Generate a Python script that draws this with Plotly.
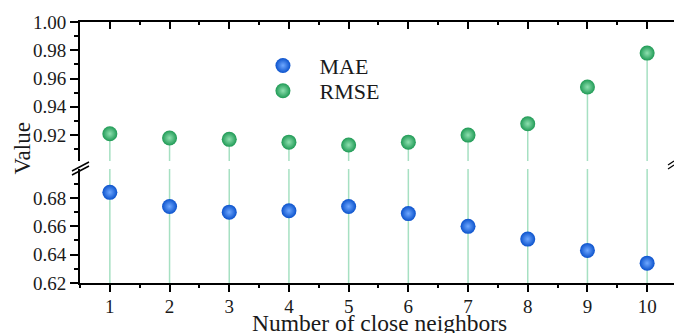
import plotly.graph_objects as go

# ---------------- data ----------------
neighbors = [1, 2, 3, 4, 5, 6, 7, 8, 9, 10]
mae = [0.684, 0.674, 0.670, 0.671, 0.674, 0.669, 0.660, 0.651, 0.643, 0.634]
rmse = [0.921, 0.918, 0.917, 0.915, 0.913, 0.915, 0.920, 0.928, 0.954, 0.978]
x_ticks = [1, 2, 3, 4, 5, 6, 7, 8, 9, 10]
low_ticks = [0.62, 0.64, 0.66, 0.68]
low_minor = [0.63, 0.65, 0.67, 0.69]
high_ticks = [0.92, 0.94, 0.96, 0.98, 1.00]
high_minor = [0.91, 0.93, 0.95, 0.97, 0.99]

# ---------------- layout constants ----------------
LOW_DOM = [0.0, 0.437]
HIGH_DOM = [0.467, 1.0]
LOW_RANGE = [0.62, 0.7005]
HIGH_RANGE = [0.9016, 1.0]
X_RANGE = [0.5, 10.45]

FONT = "Liberation Serif, Times New Roman, serif"
STEM = "#a6e0c2"
BLUE, BLUE_HI = "#0b52cc", "#6fa8ff"
GREEN, GREEN_HI = "#1f9a55", "#8fe0b0"

fig = go.Figure()

# stems in the lower panel (full height, pass through toward the RMSE points)
sx, sy = [], []
for k in neighbors:
    sx += [k, k, None]
    sy += [LOW_RANGE[0], LOW_RANGE[1], None]
fig.add_trace(go.Scatter(x=sx, y=sy, mode="lines", line=dict(color=STEM, width=1.5),
                         showlegend=False, hoverinfo="skip", xaxis="x", yaxis="y"))
# stems in the upper panel (from bottom to the RMSE point)
ux, uy = [], []
for k, v in zip(neighbors, rmse):
    ux += [k, k, None]
    uy += [HIGH_RANGE[0], v, None]
fig.add_trace(go.Scatter(x=ux, y=uy, mode="lines", line=dict(color=STEM, width=1.5),
                         showlegend=False, hoverinfo="skip", xaxis="x2", yaxis="y2"))

nb = "\u00a0\u00a0\u00a0"
fig.add_trace(go.Scatter(
    x=neighbors, y=mae, mode="markers", name=nb + "MAE", xaxis="x", yaxis="y",
    legend="legend",
    marker=dict(size=15, color=BLUE, line=dict(width=0),
                gradient=dict(type="radial", color=BLUE_HI))))
fig.add_trace(go.Scatter(
    x=neighbors, y=rmse, mode="markers", name=nb + "RMSE", xaxis="x2", yaxis="y2",
    legend="legend2",
    marker=dict(size=15, color=GREEN, line=dict(width=0),
                gradient=dict(type="radial", color=GREEN_HI))))

tickfont = dict(family=FONT, size=19, color="#1a1a1a")
common_y = dict(showgrid=False, zeroline=False, showline=True, linecolor="black", linewidth=2,
                ticks="outside", ticklen=8, tickwidth=2, tickcolor="black", tickfont=tickfont)
legend_common = dict(xanchor="left", yanchor="top", bgcolor="rgba(0,0,0,0)",
                     font=dict(family=FONT, size=22, color="#1a1a1a"), itemsizing="trace")

fig.update_layout(
    width=674, height=333,
    margin=dict(l=80, r=0, t=22, b=50),
    paper_bgcolor="white", plot_bgcolor="white",
    font=dict(family=FONT, color="#1a1a1a"),
    xaxis=dict(domain=[0, 1], range=X_RANGE, anchor="y", tickmode="array", tickvals=x_ticks,
               showgrid=False, zeroline=False, showline=True, linecolor="black", linewidth=2,
               ticks="outside", ticklen=7, tickwidth=2, tickcolor="black", tickfont=tickfont,
               ticklabelstandoff=-2,
               minor=dict(tickmode="linear", tick0=0.5, dtick=1, ticks="outside", ticklen=3,
                          tickwidth=1.5, tickcolor="black")),
    xaxis2=dict(domain=[0, 1], range=X_RANGE, anchor="y2", matches="x", side="top",
                showticklabels=False, tickmode="array", tickvals=x_ticks,
                showgrid=False, zeroline=False, showline=True, linecolor="black", linewidth=2,
                ticks="inside", ticklen=7, tickwidth=2, tickcolor="black",
                minor=dict(tickmode="linear", tick0=0.5, dtick=1, ticks="inside", ticklen=3,
                           tickwidth=1.5, tickcolor="black")),
    yaxis=dict(domain=LOW_DOM, range=LOW_RANGE, anchor="x", tickmode="array",
               tickvals=low_ticks, ticktext=[f"{v:.2f}" for v in low_ticks],
               minor=dict(tickmode="array", tickvals=low_minor, ticks="outside", ticklen=4,
                          tickwidth=1.5, tickcolor="black"),
               **common_y),
    yaxis2=dict(domain=HIGH_DOM, range=HIGH_RANGE, anchor="x2", tickmode="array",
                tickvals=high_ticks, ticktext=[f"{v:.2f}" for v in high_ticks],
                minor=dict(tickmode="array", tickvals=high_minor, ticks="outside", ticklen=4,
                           tickwidth=1.5, tickcolor="black"),
                **common_y),
    yaxis3=dict(overlaying="y", side="right", anchor="x", range=LOW_RANGE, showline=False,
                showgrid=False, zeroline=False, showticklabels=False, tickmode="array",
                tickvals=low_ticks, ticks="inside", ticklen=7, tickwidth=2, tickcolor="black",
                minor=dict(tickmode="array", tickvals=low_minor, ticks="inside", ticklen=3,
                           tickwidth=1.5, tickcolor="#333")),
    yaxis4=dict(overlaying="y2", side="right", anchor="x2", range=HIGH_RANGE, showline=False,
                showgrid=False, zeroline=False, showticklabels=False, tickmode="array",
                tickvals=high_ticks, ticks="inside", ticklen=7, tickwidth=2, tickcolor="black",
                minor=dict(tickmode="array", tickvals=high_minor, ticks="inside", ticklen=3,
                           tickwidth=1.5, tickcolor="#333")),
    legend=dict(x=0.308, y=0.913, **legend_common),
    legend2=dict(x=0.308, y=0.8165, **legend_common),
    showlegend=True,
)

# axis titles
fig.add_annotation(text="Number of close neighbors", xref="paper", yref="paper",
                   x=0.505, y=-0.152, xanchor="center", yanchor="middle", showarrow=False,
                   font=dict(family=FONT, size=23.5, color="#1a1a1a"))
fig.add_annotation(text="Value", xref="paper", yref="paper", x=-0.097, y=0.517,
                   xanchor="center", yanchor="middle", textangle=-90, showarrow=False,
                   font=dict(family=FONT, size=23, color="#1a1a1a"))


# break marks (pixel -> paper helpers)
def px(xp):
    return (xp - 80) / 594.0


def py(yp):
    return (283 - yp) / 261.0


for dy in (0, 4):
    fig.add_shape(type="line", xref="paper", yref="paper",
                  x0=px(72), y0=py(171 + dy), x1=px(89), y1=py(162 + dy),
                  line=dict(color="black", width=1.5))
    fig.add_shape(type="line", xref="paper", yref="paper",
                  x0=px(668), y0=py(165 + dy), x1=px(674), y1=py(161 + dy),
                  line=dict(color="black", width=1.2))

fig.write_html("out.html", config={"displayModeBar": False},
               post_script="document.body.style.margin='0';document.body.style.overflow='hidden';")
